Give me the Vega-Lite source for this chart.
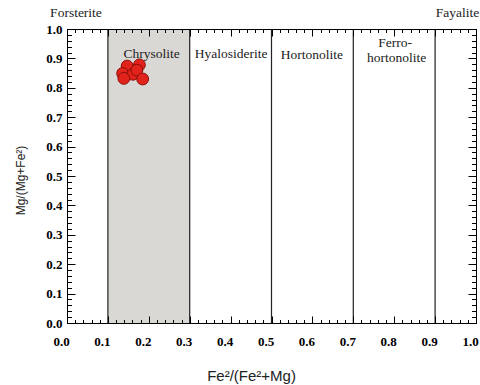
{
  "$schema": "https://vega.github.io/schema/vega-lite/v6.json",
  "width": 409,
  "height": 294,
  "autosize": "none",
  "padding": {"left": 67, "top": 29, "right": 4, "bottom": 62},
  "background": "white",
  "config": {
    "view": {"stroke": "#000", "strokeWidth": 1},
    "axis": {
      "domainColor": "#000",
      "tickColor": "#000",
      "labelColor": "#000",
      "labelOverlap": false,
      "labelFlush": false,
      "grid": false,
      "zindex": 2,
      "titleFont": "Liberation Sans",
      "titleFontWeight": "normal",
      "titleColor": "#222"
    }
  },
  "datasets": {
    "zone": [{"x1": 0.1, "x2": 0.3}],
    "lines": [{"x": 0.1}, {"x": 0.3}, {"x": 0.5}, {"x": 0.7}, {"x": 0.9}],
    "pts": [
      {"fe": 0.147, "mg": 0.874},
      {"fe": 0.177, "mg": 0.878},
      {"fe": 0.136, "mg": 0.849},
      {"fe": 0.161, "mg": 0.846},
      {"fe": 0.171, "mg": 0.860},
      {"fe": 0.139, "mg": 0.832},
      {"fe": 0.185, "mg": 0.830}
    ],
    "names": [
      {"name": "Chrysolite", "x": 0.207, "y": 0.915},
      {"name": "Hyalosiderite", "x": 0.401, "y": 0.915},
      {"name": "Hortonolite", "x": 0.599, "y": 0.912},
      {"name": "Ferro-", "x": 0.802, "y": 0.951},
      {"name": "hortonolite", "x": 0.806, "y": 0.900},
      {"name": "Forsterite", "x": 0.022, "y": 1.054},
      {"name": "Fayalite", "x": 0.955, "y": 1.054}
    ]
  },
  "layer": [
    {
      "data": {"name": "zone"},
      "mark": {"type": "rect", "color": "#dad8d4"},
      "encoding": {
        "x": {
          "field": "x1", "type": "quantitative",
          "scale": {"domain": [0, 1], "nice": false},
          "axis": {
            "orient": "bottom", "title": null, "labels": false, "zindex": 2,
            "values": [0,0.02,0.04,0.06,0.08,0.1,0.12,0.14,0.16,0.18,0.2,0.22,0.24,0.26,0.28,0.3,0.32,0.34,0.36,0.38,0.4,0.42,0.44,0.46,0.48,0.5,0.52,0.54,0.56,0.58,0.6,0.62,0.64,0.66,0.68,0.7,0.72,0.74,0.76,0.78,0.8,0.82,0.84,0.86,0.88,0.9,0.92,0.94,0.96,0.98,1],
            "tickSize": -3.5
          }
        },
        "x2": {"field": "x2"},
        "y": {
          "datum": 0, "type": "quantitative",
          "scale": {"domain": [0, 1], "nice": false},
          "axis": {
            "orient": "left", "title": null, "labels": false, "zindex": 2,
            "values": [0,0.02,0.04,0.06,0.08,0.1,0.12,0.14,0.16,0.18,0.2,0.22,0.24,0.26,0.28,0.3,0.32,0.34,0.36,0.38,0.4,0.42,0.44,0.46,0.48,0.5,0.52,0.54,0.56,0.58,0.6,0.62,0.64,0.66,0.68,0.7,0.72,0.74,0.76,0.78,0.8,0.82,0.84,0.86,0.88,0.9,0.92,0.94,0.96,0.98,1],
            "tickSize": -4.5
          }
        },
        "y2": {"datum": 1}
      }
    },
    {
      "data": {"name": "lines"},
      "mark": {"type": "rule", "color": "#222", "strokeWidth": 1.2},
      "encoding": {
        "x": {
          "field": "x", "type": "quantitative",
          "scale": {"domain": [0, 1], "nice": false},
          "axis": {
            "orient": "top", "title": null, "labels": false, "zindex": 2,
            "values": [0,0.02,0.04,0.06,0.08,0.1,0.12,0.14,0.16,0.18,0.2,0.22,0.24,0.26,0.28,0.3,0.32,0.34,0.36,0.38,0.4,0.42,0.44,0.46,0.48,0.5,0.52,0.54,0.56,0.58,0.6,0.62,0.64,0.66,0.68,0.7,0.72,0.74,0.76,0.78,0.8,0.82,0.84,0.86,0.88,0.9,0.92,0.94,0.96,0.98,1],
            "tickSize": -3.5
          }
        },
        "y": {
          "datum": 0, "type": "quantitative",
          "scale": {"domain": [0, 1], "nice": false},
          "axis": {
            "orient": "right", "title": null, "labels": false, "zindex": 2,
            "values": [0,0.02,0.04,0.06,0.08,0.1,0.12,0.14,0.16,0.18,0.2,0.22,0.24,0.26,0.28,0.3,0.32,0.34,0.36,0.38,0.4,0.42,0.44,0.46,0.48,0.5,0.52,0.54,0.56,0.58,0.6,0.62,0.64,0.66,0.68,0.7,0.72,0.74,0.76,0.78,0.8,0.82,0.84,0.86,0.88,0.9,0.92,0.94,0.96,0.98,1],
            "tickSize": -4.5
          }
        },
        "y2": {"datum": 1}
      }
    },
    {
      "data": {"name": "pts"},
      "mark": {"type": "circle", "size": 140, "fill": "#e2231b", "stroke": "#8a0e0a", "strokeWidth": 1, "opacity": 1},
      "encoding": {
        "x": {
          "field": "fe", "type": "quantitative",
          "scale": {"domain": [0, 1], "nice": false},
          "axis": {
            "orient": "bottom",
            "zindex": 2,
            "title": "Fe²/(Fe²+Mg)",
            "titleFontSize": 15,
            "titleX": 184,
            "titleY": 52,
            "titleBaseline": "middle",
            "values": [0, 0.1, 0.2, 0.3, 0.4, 0.5, 0.6, 0.7, 0.8, 0.9, 1],
            "format": ".1f",
            "labelFont": "Liberation Serif",
            "labelFontWeight": "bold",
            "labelFontSize": 13,
            "labelOffset": -6,
            "labelPadding": 19,
            "tickSize": -7
          }
        },
        "y": {
          "field": "mg", "type": "quantitative",
          "scale": {"domain": [0, 1], "nice": false},
          "axis": {
            "orient": "left",
            "zindex": 2,
            "title": "Mg/(Mg+Fe²)",
            "titleFontSize": 12,
            "titleX": -47,
            "titleY": 151,
            "titleAngle": -90,
            "titleBaseline": "middle",
            "values": [0, 0.1, 0.2, 0.3, 0.4, 0.5, 0.6, 0.7, 0.8, 0.9, 1],
            "format": ".1f",
            "labelFont": "Liberation Serif",
            "labelFontWeight": "bold",
            "labelFontSize": 13,
            "labelPadding": 13,
            "tickSize": -8
          }
        }
      }
    },
    {
      "data": {"name": "names"},
      "mark": {"type": "text", "font": "Liberation Serif", "fontSize": 13.5, "color": "#222", "align": "center", "baseline": "middle", "clip": false},
      "encoding": {
        "x": {
          "field": "x", "type": "quantitative",
          "scale": {"domain": [0, 1], "nice": false},
          "axis": {"orient": "top", "zindex": 2, "title": null, "labels": false, "values": [0, 0.1, 0.2, 0.3, 0.4, 0.5, 0.6, 0.7, 0.8, 0.9, 1], "tickSize": -7}
        },
        "y": {
          "field": "y", "type": "quantitative",
          "scale": {"domain": [0, 1], "nice": false},
          "axis": {"orient": "right", "zindex": 2, "title": null, "labels": false, "values": [0, 0.1, 0.2, 0.3, 0.4, 0.5, 0.6, 0.7, 0.8, 0.9, 1], "tickSize": -8}
        },
        "text": {"field": "name"}
      }
    }
  ],
  "resolve": {"axis": {"x": "independent", "y": "independent"}}
}
